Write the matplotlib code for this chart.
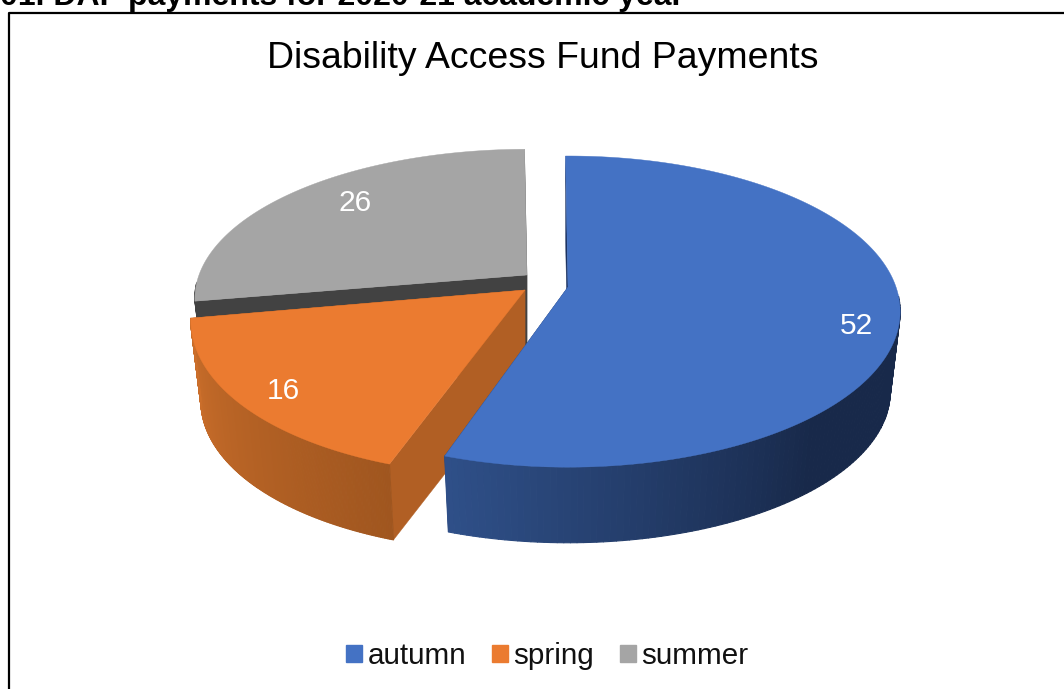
import numpy as np
import matplotlib
matplotlib.use("Agg")
import matplotlib.pyplot as plt
from matplotlib.collections import PolyCollection
from matplotlib.colors import to_rgb
from matplotlib.patches import Patch

plt.rcParams["font.family"] = ["Liberation Sans", "DejaVu Sans"]

# data
categories = ["autumn", "spring", "summer"]
values = [52, 16, 26]
heading = "01. DAF payments for 2020-21 academic year"
title = "Disability Access Fund Payments"

# look
top_colors = ["#4472C4", "#EB7B30", "#A5A5A5"]
wall_left = ["#2F5089", "#CC6F2B", "#424242"]
wall_right = ["#18294A", "#A0561F", "#424242"]
side_colors = ["#1B3261", "#B15F24", "#424242"]
apex = [(568, 287), (525, 290), (527, 275)]
y_scale = [1.0, 1.03, 0.96]
skew = [0.0, 0.07, 0.0]
label_r = [0.88, 0.875, 0.78]
label_turn = [-7.3, 1.5, -3.5]

A, K, p = 328.0, 151.7, 0.158  # ellipse size and perspective
depth, shrink = 81.0, 0.97     # pie thickness, bottom face a bit smaller
start = 90.5


def rim(i, theta, r=1.0):
    t = np.radians(theta)
    d = 1 + p * r * np.sin(t)
    dy = -K * y_scale[i] * r * np.sin(t) / d
    return A * r * np.cos(t) / d - skew[i] * dy, dy


def top_pt(i, theta, r=1.0):
    dx, dy = rim(i, theta, r)
    return apex[i][0] + dx, apex[i][1] + dy


def low_pt(i, theta):
    dx, dy = rim(i, theta)
    return apex[i][0] + shrink * dx, apex[i][1] + depth + shrink * dy


fig = plt.figure(figsize=(10.64, 6.89), dpi=100)
ax = fig.add_axes([0, 0, 1, 1])
ax.set_xlim(0, 1064)
ax.set_ylim(689, 0)
ax.axis("off")

# frame, only left and top are in the crop
ax.plot([8.5, 8.5, 1070], [700, 12.5, 12.5], color="black", lw=1.6, zorder=1)
ax.text(0, 4.5, heading, fontsize=23, fontweight="bold", ha="left", va="baseline")
ax.text(542.5, 67.5, title, fontsize=26.9, ha="center", va="baseline")

# slice limits, clockwise from the top
shares = np.array(values) / sum(values) * 360
ends = start - np.cumsum(shares)
starts = np.r_[start, ends[:-1]]


def draw_slice(i, zo):
    a0, a1 = starts[i], ends[i]
    ap = apex[i]
    ap_low = (ap[0], ap[1] + depth)
    th = np.linspace(a0, a1, 200)

    # radial walls, the outer wall goes over them
    for a in (a0, a1):
        q = [ap, top_pt(i, a), low_pt(i, a), ap_low]
        ax.fill(*zip(*q), color=side_colors[i], lw=0.3, zorder=zo)

    # outer wall, shaded along the rim
    quads, cols = [], []
    c0, c1 = np.array(to_rgb(wall_left[i])), np.array(to_rgb(wall_right[i]))
    front = np.array([t for t in th if np.sin(np.radians(t)) < -0.05])
    for t0, t1 in zip(front[:-1], front[1:]):
        quads.append([top_pt(i, t0), top_pt(i, t1), low_pt(i, t1), low_pt(i, t0)])
        if i == 1:
            f = 1 - (a0 - t0) / (a0 - a1)  # orange runs light to dark left to right
        elif i == 0:
            f = min(1.0, ((t0 % 360) - 251.5) / 60.0) if t0 % 360 > 200 else 1.0
        else:
            f = 0
        cols.append(c0 + (c1 - c0) * max(f, 0))
    if quads:
        ax.add_collection(PolyCollection(quads, facecolors=cols, edgecolors=cols, lw=0.8, zorder=zo + 0.1))

    # top face
    xy = [ap] + [top_pt(i, t) for t in th]
    ax.fill(*zip(*xy), color=top_colors[i], lw=0.3, zorder=zo + 0.2)


# back to front
draw_slice(2, 2)
draw_slice(1, 3)
draw_slice(0, 4)

for i, v in enumerate(values):
    mid = (starts[i] + ends[i]) / 2 + label_turn[i]
    x, y = top_pt(i, mid, label_r[i])
    ax.text(x, y, str(v), color="white", fontsize=21.5, ha="center", va="center", zorder=6)

handles = [Patch(color=c, label=n) for c, n in zip(top_colors, categories)]
ax.legend(handles=handles, loc="center", bbox_to_anchor=(547.5, 656), bbox_transform=ax.transData,
          ncol=3, frameon=False, fontsize=21.3, handlelength=0.52, handleheight=0.52,
          handletextpad=0.2, columnspacing=0.88, borderpad=0, labelcolor="#111111")

fig.savefig("out.png", dpi=100)
